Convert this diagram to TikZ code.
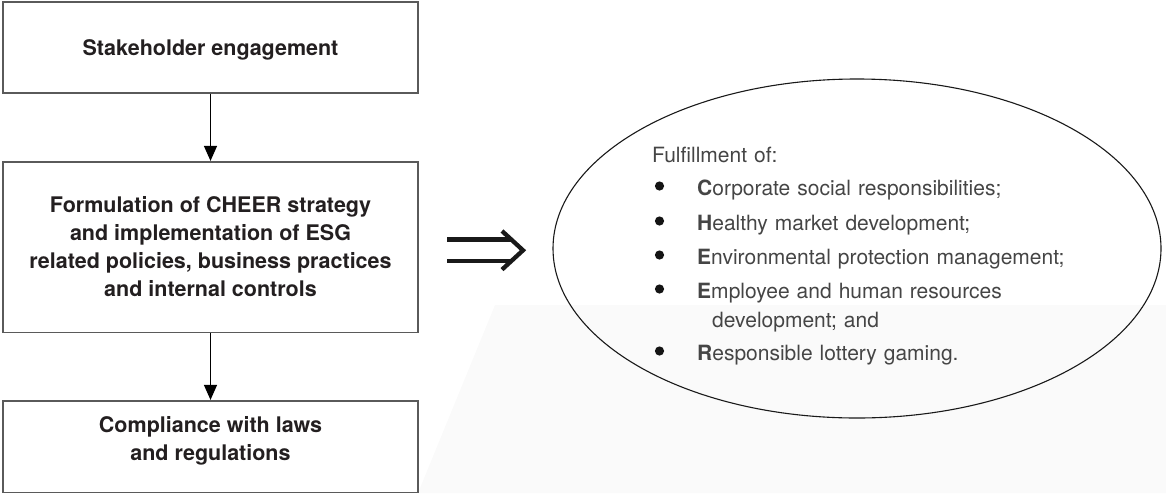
\documentclass[tikz,border=0pt]{standalone}
\usepackage{fontspec}
\setmainfont{TeX Gyre Heros}
\usetikzlibrary{arrows.meta,shapes.geometric}

\definecolor{boxline}{HTML}{5A5A5A}
\definecolor{inktext}{HTML}{231F20}
\definecolor{lighttext}{HTML}{454545}

% invisible struts that extend a line's depth or height
\newcommand\deepstrut[1]{\rule[-#1]{0pt}{#1}}
\newcommand\tallstrut[1]{\rule{0pt}{#1}}
% indent of a list entry; the bullets themselves are drawn as dots
\newcommand\listind{\hspace*{45pt}}

\begin{document}
\begin{tikzpicture}[x=1pt,y=-1pt,
  stagebox/.style={draw=boxline,line width=1.6pt,minimum width=415.5pt,inner sep=0pt,
    align=center,font=\fontsize{21.5}{28}\selectfont\bfseries,text=inktext},
  flow/.style={line width=1.3pt,draw=black,-{Triangle[width=13pt,length=15pt]}},
  bigimplies/.style={line width=4.3pt,draw=black!90,miter limit=10},
  goalshape/.style={draw=black!90,ellipse,line width=1.1pt,inner sep=0pt},
  listtext/.style={anchor=base west,inner sep=0pt,text width=480pt,align=left,
    font=\fontsize{21}{29}\selectfont,text=lighttext},
  listdot/.style={fill=black!92}]

\useasboundingbox (0,0) rectangle (1166,493);

% faint paper tone in the lower right
\fill[black!2] (495,305) -- (1166,305) -- (1166,493) -- (418,493) -- cycle;

% left column of steps
\node[stagebox,minimum height=90.7pt] (engage) at (210.5,47.35)
  {\tallstrut{21.5pt}Stakeholder engagement};
\node[stagebox,minimum height=170.6pt] (strategy) at (210.5,247)
  {Formulation of CHEER strategy\\and implementation of ESG\\related policies, business practices\\and internal controls};
\node[stagebox,minimum height=91.6pt] (comply) at (210.5,446.5)
  {Compliance with laws\\and regulations\deepstrut{16.5pt}};

\draw[flow] (engage.south) -- (strategy.north);
\draw[flow] (strategy.south) -- (comply.north);

% outcome ellipse
\node[goalshape,minimum width=608pt,minimum height=339pt] (goals) at (857,248.5) {};

% double arrow between the strategy box and the ellipse
\coordinate (dbl) at (447,250.3);
\draw[bigimplies] (dbl) ++(0,-10.8) -- ++(65,0) (dbl) ++(0,10.7) -- ++(65,0);
\draw[bigimplies] (dbl) ++(55,-19.3) -- ++(21,19.3) -- ++(-21,19.3);

% list inside the ellipse
\node[listtext] (items) at (652,162) {Fulfillment of:\\[4pt]
\listind\textbf{C}orporate social responsibilities;\\[6pt]
\listind\textbf{H}ealthy market development;\\[5pt]
\listind\textbf{E}nvironmental protection management;\\[5pt]
\listind\textbf{E}mployee and human resources\\
\hspace*{60pt}development; and\\[4pt]
\listind\textbf{R}esponsible lottery gaming.};

% bullet dots, one per entry
\foreach \dy in {24,59,93,127,189}
  \fill[listdot] (items.base west) ++(7.5,\dy) circle (4.6pt);

\end{tikzpicture}
\end{document}
